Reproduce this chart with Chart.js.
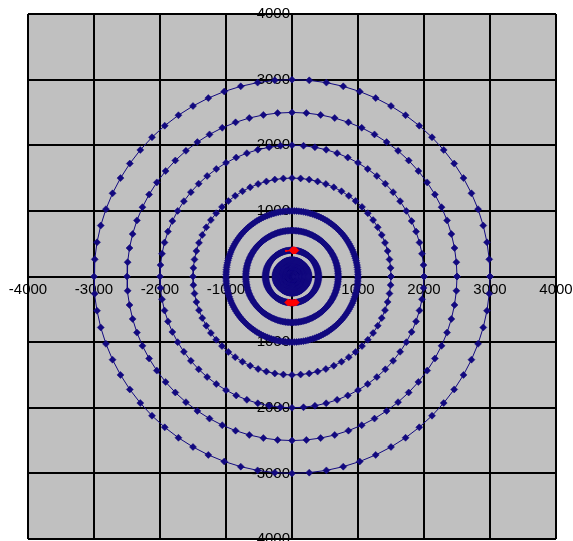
<!DOCTYPE html>
<html>
<head>
<meta charset="utf-8">
<script src="https://cdn.jsdelivr.net/npm/chart.js@4/dist/chart.umd.min.js"></script>
<style>
  html, body { margin: 0; padding: 0; background: #ffffff; overflow: hidden; }
  #wrap { width: 573px; height: 544px; position: relative; }
</style>
</head>
<body>
<div id="wrap"><canvas id="c" width="573" height="544"></canvas></div>
<script>
// Concentric rings: radius of each ring and the angular step between its points (degrees)
const ringRadii   = [3000, 2500, 2000, 1500, 1000, 700, 400, 250, 200, 150, 100, 50];
const ringStepDeg = [5,    5,    5,    5,    2,    2,   2,   2,   2,   2,   2,   2];

// Axis tick values
const axisTicks = [-4000, -3000, -2000, -1000, 0, 1000, 2000, 3000, 4000];

// Highlighted points near the top and bottom of the 400 ring
const redTop = [{x: -90, y: 390}, {x: 10, y: 400}, {x: 30, y: 399}, {x: 50, y: 397}];
const redTopRadius = [1, 3.5, 3.5, 3.5];
const redBottom = [{x: -55, y: -396}, {x: -20, y: -400}, {x: 20, y: -400}, {x: 55, y: -396}];

const navy = '#12097f';
const red = '#ff0000';

function ringPoints(r, step) {
  const pts = [];
  for (let a = 0; a <= 360; a += step) {
    const t = a * Math.PI / 180;
    pts.push({x: r * Math.cos(t), y: r * Math.sin(t)});
  }
  return pts;
}

const datasets = [];
datasets.push({
  label: 'top', data: redTop, showLine: true, borderColor: red, borderWidth: 1.5,
  pointStyle: 'rectRot', pointRadius: redTopRadius, pointBackgroundColor: red,
  pointBorderColor: red, pointBorderWidth: 1, order: 0
});
datasets.push({
  label: 'bottom', data: redBottom, showLine: true, borderColor: red, borderWidth: 1.5,
  pointStyle: 'rectRot', pointRadius: 3.5, pointBackgroundColor: red,
  pointBorderColor: red, pointBorderWidth: 1, order: 0
});
ringRadii.forEach((r, i) => {
  datasets.push({
    label: 'r' + r, data: ringPoints(r, ringStepDeg[i]), showLine: true,
    borderColor: navy, borderWidth: 1,
    pointStyle: 'rectRot', pointRadius: 3.5, pointBackgroundColor: navy,
    pointBorderColor: navy, pointBorderWidth: 0.5, order: 1 + i
  });
});

const plotBg = {
  id: 'plotBg',
  beforeDraw(chart) {
    const {ctx, chartArea: a} = chart;
    ctx.save();
    ctx.fillStyle = '#c0c0c0';
    ctx.fillRect(a.left, a.top, a.right - a.left, a.bottom - a.top);
    ctx.restore();
  }
};

const tickFont = {family: "'Liberation Sans', Arial, sans-serif", size: 15};

// The axes cross at the origin; their labels must not shrink the plot area
function noScalePadding(s) {
  s.paddingLeft = 0; s.paddingRight = 0; s.paddingTop = 0; s.paddingBottom = 0;
}

new Chart(document.getElementById('c'), {
  type: 'scatter',
  data: {datasets},
  options: {
    responsive: false,
    animation: false,
    devicePixelRatio: 1,
    layout: {padding: {left: 28, right: 17, top: 14, bottom: 0}},
    plugins: {legend: {display: false}, tooltip: {enabled: false}},
    elements: {line: {tension: 0}},
    scales: {
      x: {
        type: 'linear', position: 'center', min: -4000, max: 4000,
        afterBuildTicks(s) { s.ticks = axisTicks.map(v => ({value: v})); },
        afterFit: noScalePadding,
        ticks: {font: tickFont, color: '#000', padding: 4, maxRotation: 0, autoSkip: false,
                callback: v => String(v)},
        grid: {color: '#000', lineWidth: 2, drawTicks: false},
        border: {display: true, color: '#000', width: 1}
      },
      y: {
        type: 'linear', position: 'center', min: -4000, max: 4000,
        afterBuildTicks(s) { s.ticks = axisTicks.map(v => ({value: v})); },
        afterFit: noScalePadding,
        ticks: {font: tickFont, color: '#000', padding: 2, autoSkip: false,
                callback: v => String(v)},
        grid: {color: '#000', lineWidth: 2, drawTicks: false},
        border: {display: true, color: '#000', width: 1}
      }
    }
  },
  plugins: [plotBg]
});
</script>
</body>
</html>
